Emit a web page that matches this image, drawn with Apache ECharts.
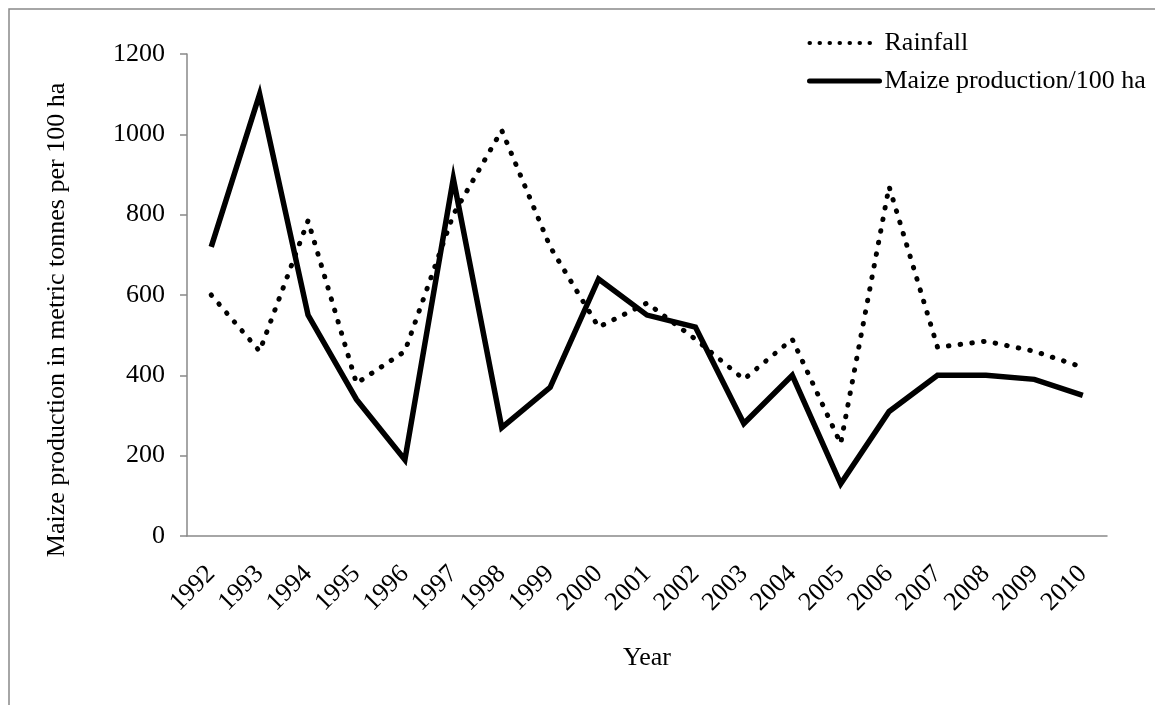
<!DOCTYPE html>
<html>
<head>
<meta charset="utf-8">
<script src="https://cdn.jsdelivr.net/npm/echarts@6/dist/echarts.min.js"></script>
<style>
  html, body { margin: 0; padding: 0; background: #fff; }
  #chart { width: 1155px; height: 705px; }
</style>
</head>
<body>
<div id="chart"></div>
<script>
const years = ['1992','1993','1994','1995','1996','1997','1998','1999','2000','2001',
               '2002','2003','2004','2005','2006','2007','2008','2009','2010'];
const rainfall = [600, 460, 785, 380, 460, 800, 1010, 720, 520, 580,
                  490, 390, 490, 230, 870, 470, 485, 460, 420];
const maize = [720, 1100, 550, 340, 190, 890, 270, 370, 640, 550,
               520, 280, 400, 130, 310, 400, 400, 390, 350];
const yTicks = { min: 0, max: 1200, interval: 200 };

const FONT = 'Liberation Serif';
const axisGray = '#898989';

const dotted = { color: '#000', width: 5, type: [0.5, 11.3], cap: 'round' };
const solid = { color: '#000', width: 5.5, join: 'miter' };

const chart = echarts.init(document.getElementById('chart'));

const option = {
    backgroundColor: '#fff',
    animation: false,
    textStyle: { fontFamily: FONT, color: '#000' },
    graphic: [
        {
            type: 'rect',
            shape: { x: 9, y: 9, width: 1300, height: 900 },
            style: { fill: 'none', stroke: axisGray, lineWidth: 1.5 }
        }
    ],
    legend: {
        orient: 'vertical',
        left: 802,
        top: 25,
        itemWidth: 70,
        itemHeight: 14,
        itemGap: 12,
        textStyle: { fontFamily: FONT, fontSize: 26, color: '#000' },
        itemStyle: { opacity: 0 },
        data: [
            { name: 'Rainfall', lineStyle: { color: '#000', width: 4, type: [0.5, 9.5], cap: 'round' } },
            { name: 'Maize production/100 ha', lineStyle: { color: '#000', width: 5, cap: 'round' } }
        ]
    },
    grid: { left: 187, right: 48, top: 54, bottom: 169 },
    xAxis: {
        type: 'category',
        data: years,
        name: 'Year',
        nameLocation: 'middle',
        nameGap: 109,
        nameTextStyle: { fontFamily: FONT, fontSize: 26, color: '#000' },
        axisLine: { lineStyle: { color: axisGray, width: 1.5 } },
        axisTick: { length: 7, lineStyle: { color: axisGray, width: 1.5 } },
        axisLabel: { interval: 0, rotate: 45, margin: 34, fontFamily: FONT, fontSize: 26, color: '#000' },
        splitLine: { show: false }
    },
    yAxis: {
        type: 'value',
        min: yTicks.min,
        max: yTicks.max,
        interval: yTicks.interval,
        name: 'Maize production in metric tonnes per 100 ha',
        nameLocation: 'middle',
        nameGap: 117,
        nameTextStyle: { fontFamily: FONT, fontSize: 26, color: '#000', padding: [0, 50, 0, 0] },
        axisLine: { show: true, lineStyle: { color: axisGray, width: 1.5 } },
        axisTick: { show: true, length: 7, lineStyle: { color: axisGray, width: 1.5 } },
        axisLabel: { margin: 22, fontFamily: FONT, fontSize: 26, color: '#000', formatter: (v) => String(v) },
        splitLine: { show: false }
    },
    series: [
        {
            name: 'Rainfall',
            type: 'line',
            data: rainfall,
            symbol: 'none',
            color: '#000',
            lineStyle: dotted
        },
        {
            name: 'Maize production/100 ha',
            type: 'line',
            data: maize,
            symbol: 'none',
            color: '#000',
            lineStyle: solid
        }
    ]
};
chart.setOption(option);
</script>
</body>
</html>
